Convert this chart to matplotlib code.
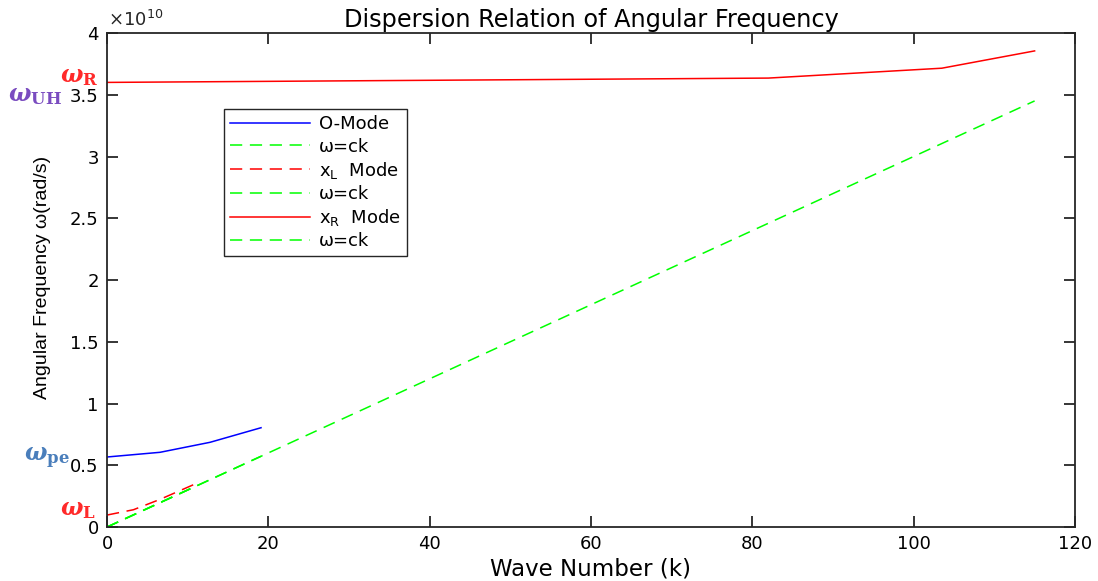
import numpy as np
import matplotlib.pyplot as plt
from matplotlib.ticker import FuncFormatter

# wave number (k) and angular frequency (rad/s)
k_o = [0, 6.57, 12.77, 19.09]
w_o = [0.567e10, 0.605e10, 0.686e10, 0.804e10]

k_l = [0, 3.27, 6.57, 10.9]
w_l = [0.097e10, 0.14e10, 0.224e10, 0.348e10]

k_r = [0, 82, 103.5, 115]
w_r = [3.60e10, 3.635e10, 3.715e10, 3.855e10]

# light line w = ck, one for each mode
k_ck_o = [0, 19.09]
w_ck_o = [0, 0.573e10]
k_ck_l = [0, 10.9]
w_ck_l = [0, 0.327e10]
k_ck_r = [0, 115]
w_ck_r = [0, 3.45e10]

xticks = [0, 20, 40, 60, 80, 100, 120]
yticks = np.arange(0, 4.01, 0.5) * 1e10

plt.rcParams["mathtext.fontset"] = "dejavuserif"

fig = plt.figure(figsize=(10.98, 5.81), dpi=100)
ax = fig.add_axes([0.0975, 0.0929, 0.8815, 0.8503])

dash = (8, 5)
ax.plot(k_o, w_o, color="#0000FF", lw=1.1, label="O-Mode")
ax.plot(k_ck_o, w_ck_o, color="#00FF00", lw=1.1, dashes=dash, label="ω=ck")
ax.plot(k_l, w_l, color="#FF0000", lw=1.1, dashes=dash, label=r"x$_\mathregular{L}$  Mode")
ax.plot(k_ck_l, w_ck_l, color="#00FF00", lw=1.1, dashes=dash, label="ω=ck")
ax.plot(k_r, w_r, color="#FF0000", lw=1.1, label=r"x$_\mathregular{R}$  Mode")
ax.plot(k_ck_r, w_ck_r, color="#00FF00", lw=1.1, dashes=dash, label="ω=ck")

ax.set_xlim(0, 120)
ax.set_ylim(0, 4e10)
ax.set_xticks(xticks)
ax.set_yticks(yticks)
ax.yaxis.set_major_formatter(FuncFormatter(lambda v, p: f"{v/1e10:g}"))
ax.tick_params(direction="in", length=8, width=1.3, top=True, right=True,
               labelsize=13, colors="#262626", labelcolor="black", pad=6)
for s in ax.spines.values():
    s.set_linewidth(1.3)
    s.set_color("#262626")

ax.set_title("Dispersion Relation of Angular Frequency", fontsize=17.3, pad=4)
ax.set_xlabel("Wave Number (k)", fontsize=16.5, labelpad=3)
fig.text(43 / 1098, 1 - 277 / 581, "Angular Frequency ω(rad/s)", rotation=90,
         ha="center", va="center", fontsize=14,
         family=["Liberation Sans", "DejaVu Sans"])
fig.text(108 / 1098, 1 - 30 / 581, r"$\times\mathregular{10}^\mathregular{10}$",
         fontsize=13, ha="left", va="bottom", color="#262626")

leg = ax.legend(loc="upper left", bbox_to_anchor=(0.121, 0.846), fontsize=13,
                handlelength=4.4, handletextpad=0.5, labelspacing=0.23,
                fancybox=False, edgecolor="#262626", framealpha=1,
                borderpad=0.35, borderaxespad=0)
leg.get_frame().set_linewidth(1.0)

# frequency markers beside the y axis
fig.text(79 / 1098, 1 - 76 / 581, r"$\boldsymbol{\omega}_\mathbf{R}$", color="#FF2A2A",
         fontsize=17, ha="center", va="center")
fig.text(35 / 1098, 1 - 95 / 581, r"$\boldsymbol{\omega}_\mathbf{UH}$", color="#7A4CC0",
         fontsize=17, ha="center", va="center")
fig.text(47 / 1098, 1 - 458 / 581, r"$\boldsymbol{\omega}_\mathbf{pe}$", color="#4A7EBB",
         fontsize=17, ha="center", va="center")
fig.text(78 / 1098, 1 - 509 / 581, r"$\boldsymbol{\omega}_\mathbf{L}$", color="#FF2A2A",
         fontsize=17, ha="center", va="center")

fig.savefig("out.png", dpi=100)
